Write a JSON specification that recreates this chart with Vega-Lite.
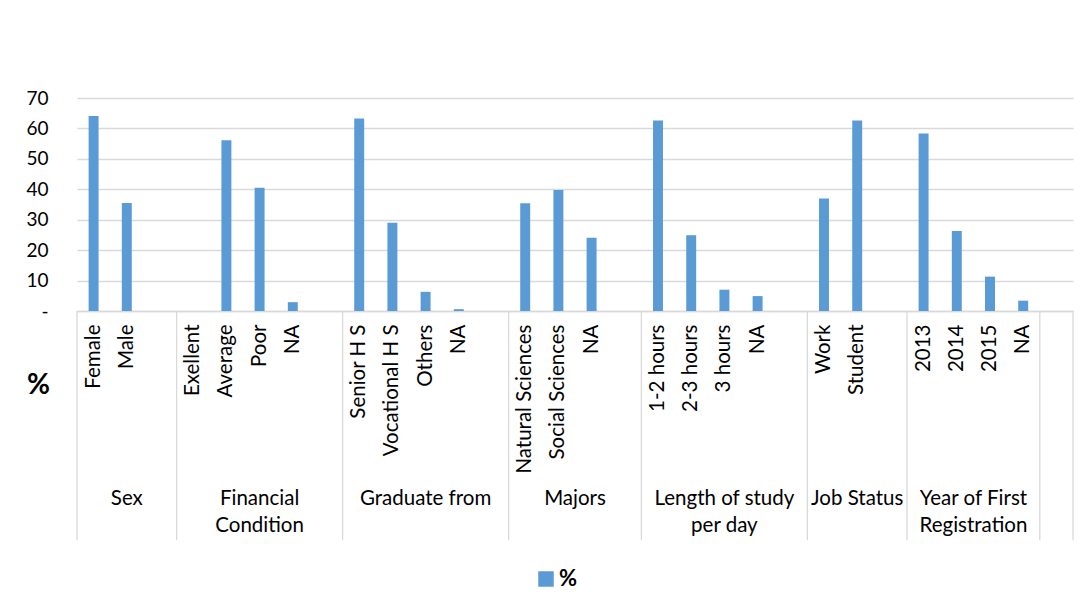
{
  "$schema": "https://vega.github.io/schema/vega-lite/v6.json",
  "autosize": {"type": "none"},
  "width": 996,
  "height": 213,
  "padding": {"left": 77, "top": 98, "right": 17, "bottom": 299},
  "background": "white",
  "config": {
    "view": {"stroke": null},
    "font": "Lato",
    "text": {"font": "Lato"},
    "axisY": {
      "labelFontSize": 19,
      "labelFont": "Lato",
      "labelColor": "#000000",
      "labelPadding": 29,
      "labelOverlap": false,
      "ticks": false,
      "domain": false,
      "grid": true,
      "gridColor": "#D9D9D9",
      "gridWidth": 1.3,
      "titleAngle": 0,
      "titleX": -39,
      "titleY": 287,
      "titleAlign": "center",
      "titleBaseline": "middle",
      "titleFontSize": 28,
      "titleFontWeight": "bold",
      "titleFont": "Lato",
      "titleColor": "#000000"
    }
  },
  "datasets": {
    "slots": [
      {"key": "Sex|Female", "value": 64.1},
      {"key": "Sex|Male", "value": 35.5},
      {"key": "Sex|", "value": null},
      {"key": "Financial|Exellent", "value": 0},
      {"key": "Financial|Average", "value": 56.1},
      {"key": "Financial|Poor", "value": 40.5},
      {"key": "Financial|NA", "value": 2.9},
      {"key": "Financial|", "value": null},
      {"key": "Graduate|Senior H S", "value": 63.3},
      {"key": "Graduate|Vocational H S", "value": 29.0},
      {"key": "Graduate|Others", "value": 6.3},
      {"key": "Graduate|NA", "value": 0.6},
      {"key": "Graduate|", "value": null},
      {"key": "Majors|Natural Sciences", "value": 35.4},
      {"key": "Majors|Social Sciences", "value": 39.8},
      {"key": "Majors|NA", "value": 24.1},
      {"key": "Majors|", "value": null},
      {"key": "Length|1-2 hours", "value": 62.6},
      {"key": "Length|2-3 hours", "value": 24.9},
      {"key": "Length|3 hours", "value": 7.0},
      {"key": "Length|NA", "value": 4.9},
      {"key": "Length|", "value": null},
      {"key": "Job|Work", "value": 37.0},
      {"key": "Job|Student", "value": 62.6},
      {"key": "Job|", "value": null},
      {"key": "Year|2013", "value": 58.3},
      {"key": "Year|2014", "value": 26.3},
      {"key": "Year|2015", "value": 11.3},
      {"key": "Year|NA", "value": 3.4},
      {"key": "End|", "value": null}
    ],
    "bounds": [
      {"key": "Sex|Female"},
      {"key": "Financial|Exellent"},
      {"key": "Graduate|Senior H S"},
      {"key": "Majors|Natural Sciences"},
      {"key": "Length|1-2 hours"},
      {"key": "Job|Work"},
      {"key": "Year|2013"},
      {"key": "End|"}
    ],
    "groupsMid": [
      {"key": "Sex|Male", "group": "Sex"},
      {"key": "Financial|Poor", "group": "Financial\nCondition"},
      {"key": "Graduate|Others", "group": "Graduate from"},
      {"key": "Length|3 hours", "group": "Length of study\nper day"},
      {"key": "Job|Student", "group": "Job Status"}
    ],
    "groupsEdge": [
      {"key": "Majors|NA", "group": "Majors"},
      {"key": "Year|2015", "group": "Year of First\nRegistration"}
    ]
  },
  "layer": [
    {
      "data": {"name": "slots"},
      "mark": {"type": "bar", "width": {"band": 0.3}, "color": "#5B9BD5"},
      "encoding": {
        "x": {
          "field": "key", "type": "nominal", "sort": null,
          "scale": {"domain": ["Sex|Female","Sex|Male","Sex|","Financial|Exellent","Financial|Average","Financial|Poor","Financial|NA","Financial|","Graduate|Senior H S","Graduate|Vocational H S","Graduate|Others","Graduate|NA","Graduate|","Majors|Natural Sciences","Majors|Social Sciences","Majors|NA","Majors|","Length|1-2 hours","Length|2-3 hours","Length|3 hours","Length|NA","Length|","Job|Work","Job|Student","Job|","Year|2013","Year|2014","Year|2015","Year|NA","End|"], "paddingInner": 0, "paddingOuter": 0},
          "axis": {
            "title": null,
            "labelExpr": "split(datum.label, '|')[1]",
            "labelAngle": -90,
            "labelPadding": 13,
            "labelFontSize": 20.5,
            "labelFont": "Lato",
            "labelColor": "#000000",
            "labelLimit": 400,
            "labelOverlap": false,
            "ticks": false,
            "domainColor": "#D9D9D9",
            "domainWidth": 1.3
          }
        },
        "y": {
          "field": "value", "type": "quantitative",
          "scale": {"domain": [0, 70], "nice": false},
          "axis": {
            "values": [0, 10, 20, 30, 40, 50, 60, 70],
            "labelExpr": "datum.value == 0 ? '-' : datum.label",
            "title": "%"
          }
        },
        "color": {
          "datum": "%",
          "type": "nominal",
          "scale": {"range": ["#5B9BD5"]},
          "legend": {
            "title": null,
            "orient": "none",
            "legendX": 458,
            "legendY": 470,
            "padding": 0,
            "symbolType": "square",
            "symbolSize": 240,
            "symbolStrokeWidth": 0,
            "labelFontSize": 22,
            "labelFontWeight": "bold",
            "labelFont": "Lato",
            "labelColor": "#000000",
            "labelOffset": 2
          }
        }
      }
    },
    {
      "data": {"name": "bounds"},
      "mark": {"type": "rule", "color": "#D9D9D9", "strokeWidth": 1.3},
      "encoding": {
        "x": {
          "field": "key", "type": "nominal", "bandPosition": 0,
          "scale": {"domain": ["Sex|Female","Sex|Male","Sex|","Financial|Exellent","Financial|Average","Financial|Poor","Financial|NA","Financial|","Graduate|Senior H S","Graduate|Vocational H S","Graduate|Others","Graduate|NA","Graduate|","Majors|Natural Sciences","Majors|Social Sciences","Majors|NA","Majors|","Length|1-2 hours","Length|2-3 hours","Length|3 hours","Length|NA","Length|","Job|Work","Job|Student","Job|","Year|2013","Year|2014","Year|2015","Year|NA","End|"]}
        },
        "y": {"datum": 0, "type": "quantitative", "scale": {"domain": [0, 70], "nice": false},
          "axis": {"values": [0, 10, 20, 30, 40, 50, 60, 70], "labelExpr": "datum.value == 0 ? '-' : datum.label", "title": "%"}},
        "y2": {"datum": -75.3}
      }
    },
    {
      "data": {"name": "bounds"},
      "transform": [{"filter": "datum.key == 'End|'"}],
      "mark": {"type": "rule", "color": "#D9D9D9", "strokeWidth": 1.3},
      "encoding": {
        "x": {
          "field": "key", "type": "nominal", "bandPosition": 1,
          "scale": {"domain": ["Sex|Female","Sex|Male","Sex|","Financial|Exellent","Financial|Average","Financial|Poor","Financial|NA","Financial|","Graduate|Senior H S","Graduate|Vocational H S","Graduate|Others","Graduate|NA","Graduate|","Majors|Natural Sciences","Majors|Social Sciences","Majors|NA","Majors|","Length|1-2 hours","Length|2-3 hours","Length|3 hours","Length|NA","Length|","Job|Work","Job|Student","Job|","Year|2013","Year|2014","Year|2015","Year|NA","End|"]}
        },
        "y": {"datum": 0, "type": "quantitative", "scale": {"domain": [0, 70], "nice": false},
          "axis": {"values": [0, 10, 20, 30, 40, 50, 60, 70], "labelExpr": "datum.value == 0 ? '-' : datum.label", "title": "%"}},
        "y2": {"datum": -75.3}
      }
    },
    {
      "data": {"name": "groupsMid"},
      "mark": {"type": "text", "font": "Lato", "fontSize": 20.5, "color": "#000000", "align": "center", "baseline": "alphabetic", "lineBreak": "\n", "lineHeight": 27},
      "encoding": {
        "x": {
          "field": "key", "type": "nominal", "bandPosition": 0.5,
          "scale": {"domain": ["Sex|Female","Sex|Male","Sex|","Financial|Exellent","Financial|Average","Financial|Poor","Financial|NA","Financial|","Graduate|Senior H S","Graduate|Vocational H S","Graduate|Others","Graduate|NA","Graduate|","Majors|Natural Sciences","Majors|Social Sciences","Majors|NA","Majors|","Length|1-2 hours","Length|2-3 hours","Length|3 hours","Length|NA","Length|","Job|Work","Job|Student","Job|","Year|2013","Year|2014","Year|2015","Year|NA","End|"]}
        },
        "y": {"datum": -63.75, "type": "quantitative", "scale": {"domain": [0, 70], "nice": false},
          "axis": {"values": [0, 10, 20, 30, 40, 50, 60, 70], "labelExpr": "datum.value == 0 ? '-' : datum.label", "title": "%"}},
        "text": {"field": "group", "type": "nominal"}
      }
    },
    {
      "data": {"name": "groupsEdge"},
      "mark": {"type": "text", "font": "Lato", "fontSize": 20.5, "color": "#000000", "align": "center", "baseline": "alphabetic", "lineBreak": "\n", "lineHeight": 27},
      "encoding": {
        "x": {
          "field": "key", "type": "nominal", "bandPosition": 0,
          "scale": {"domain": ["Sex|Female","Sex|Male","Sex|","Financial|Exellent","Financial|Average","Financial|Poor","Financial|NA","Financial|","Graduate|Senior H S","Graduate|Vocational H S","Graduate|Others","Graduate|NA","Graduate|","Majors|Natural Sciences","Majors|Social Sciences","Majors|NA","Majors|","Length|1-2 hours","Length|2-3 hours","Length|3 hours","Length|NA","Length|","Job|Work","Job|Student","Job|","Year|2013","Year|2014","Year|2015","Year|NA","End|"]}
        },
        "y": {"datum": -63.75, "type": "quantitative", "scale": {"domain": [0, 70], "nice": false},
          "axis": {"values": [0, 10, 20, 30, 40, 50, 60, 70], "labelExpr": "datum.value == 0 ? '-' : datum.label", "title": "%"}},
        "text": {"field": "group", "type": "nominal"}
      }
    }
  ]
}
